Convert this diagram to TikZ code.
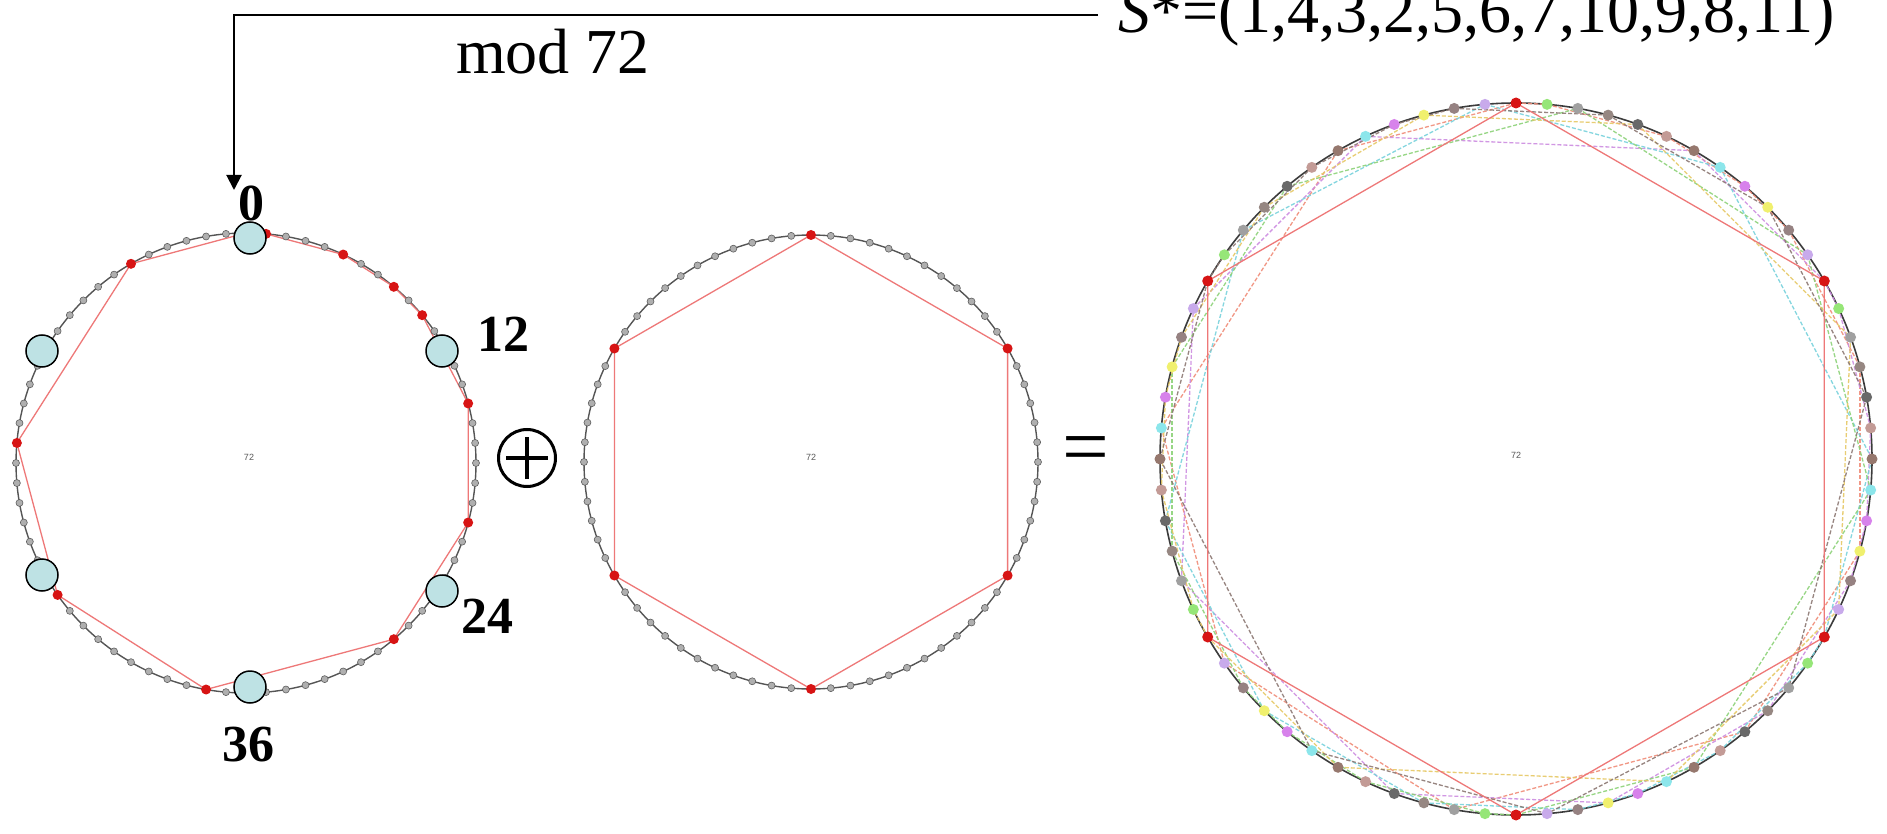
\documentclass[tikz,border=0pt]{standalone}
\usepackage{fontspec}
\setmainfont{Liberation Serif}
\newfontfamily\smallsans{Liberation Sans}
\usetikzlibrary{arrows.meta}
\pgfdeclarelayer{bg}
\pgfdeclarelayer{paper}
\pgfsetlayers{paper,bg,main}
\definecolor{lblue}{RGB}{190,226,228}
\definecolor{polyc}{RGB}{238,120,120}
\definecolor{dotred}{RGB}{215,20,20}
\definecolor{ringc}{RGB}{85,85,85}
\definecolor{dotgrey}{RGB}{175,175,175}
\definecolor{dotedge}{RGB}{95,95,95}
\definecolor{res0}{RGB}{215,20,20}
\definecolor{res1}{RGB}{150,230,120}
\definecolor{res2}{RGB}{160,160,160}
\definecolor{res3}{RGB}{150,135,130}
\definecolor{res4}{RGB}{105,105,105}
\definecolor{res5}{RGB}{195,155,150}
\definecolor{res6}{RGB}{150,120,110}
\definecolor{res7}{RGB}{140,230,235}
\definecolor{res8}{RGB}{215,130,235}
\definecolor{res9}{RGB}{240,240,110}
\definecolor{res10}{RGB}{150,130,130}
\definecolor{res11}{RGB}{200,170,235}
\definecolor{cp0}{RGB}{240,140,120}
\definecolor{cp1}{RGB}{205,140,225}
\definecolor{cp2}{RGB}{120,210,220}
\definecolor{cp3}{RGB}{140,210,120}
\definecolor{cp4}{RGB}{230,200,100}
\definecolor{cp5}{RGB}{140,120,115}
\begin{document}
\begin{tikzpicture}[x=1pt,y=-1pt,
  ring/.style={draw=ringc, line width=1.4pt},
  gdot/.style={circle, inner sep=0pt, minimum size=7pt, fill=dotgrey, draw=dotedge, line width=0.6pt},
  rdot/.style={circle, inner sep=0pt, minimum size=10pt, fill=dotred},
  cdot/.style={circle, inner sep=0pt, minimum size=11pt},
  poly/.style={draw=polyc, line width=1.3pt},
  copyline/.style={line width=1.3pt, dash pattern=on 4pt off 2pt, opacity=0.9},
  bluenode/.style={circle, inner sep=0pt, minimum size=32pt, fill=lblue, draw=black, line width=1.5pt},
  lab/.style={font=\fontsize{52}{52}\selectfont\bfseries, inner sep=0pt},
  big/.style={font=\fontsize{64}{64}\selectfont, inner sep=0pt},
  centre/.style={font=\smallsans\fontsize{9}{9}\selectfont, text=gray!70!black, inner sep=0pt},
  opsym/.style={draw=black, line width=3pt}
]
\begin{pgfonlayer}{paper}
  \fill[white] (0,0) rectangle (1887,834);
\end{pgfonlayer}
\useasboundingbox (0,0) rectangle (1887,834);

% ---------- left graph ----------
\foreach \i in {0,...,71}{
  \pgfmathsetmacro\px{246+230*sin(5*\i)}
  \pgfmathsetmacro\py{463-230*cos(5*\i)}
  \node[gdot] (L\i) at (\px,\py) {};
}
\foreach \i in {1,5,8,10,15,21,28,38,47,55,66}{
  \node[rdot] (Lr\i) at (L\i.center) {};
}
\begin{pgfonlayer}{bg}
  \draw[ring] (246,463) circle (230pt);
  \draw[poly] (L0.center) -- (L1.center) -- (L5.center) -- (L8.center) -- (L10.center)
    -- (L15.center) -- (L21.center) -- (L28.center) -- (L38.center) -- (L47.center)
    -- (L55.center) -- (L66.center) -- cycle;
\end{pgfonlayer}
\node[centre] (Lc) at (249,457) {72};

% ---------- middle graph ----------
\foreach \i in {0,...,71}{
  \pgfmathsetmacro\px{811+227*sin(5*\i)}
  \pgfmathsetmacro\py{462-227*cos(5*\i)}
  \node[gdot] (M\i) at (\px,\py) {};
}
\foreach \i in {0,12,24,36,48,60}{
  \node[rdot] (Mr\i) at (M\i.center) {};
}
\begin{pgfonlayer}{bg}
  \draw[ring] (811,462) circle (227pt);
  \draw[poly] (M0.center) -- (M12.center) -- (M24.center) -- (M36.center) -- (M48.center) -- (M60.center) -- cycle;
\end{pgfonlayer}
\node[centre] (Mc) at (811,457) {72};

% ---------- right graph ----------
\foreach \i in {0,...,71}{
  \pgfmathsetmacro\px{1516+356*sin(5*\i)}
  \pgfmathsetmacro\py{459-356*cos(5*\i)}
  \pgfmathtruncatemacro\m{mod(\i,12)}
  \node[cdot, fill=res\m] (R\i) at (\px,\py) {};
}
\begin{pgfonlayer}{bg}
  \draw[draw=ringc!70!black, line width=1.6pt] (1516,459) circle (356pt);
  \foreach \k/\col in {0/cp0,1/cp1,2/cp2,3/cp3,4/cp4,5/cp5}{
    \foreach \a/\b in {0/1,1/5,5/8,8/10,10/15,15/21,21/28,28/38,38/47,47/55,55/66,66/72}{
      \pgfmathtruncatemacro\ia{mod(\a+12*\k,72)}
      \pgfmathtruncatemacro\ib{mod(\b+12*\k,72)}
      \draw[copyline, draw=\col] (R\ia.center) -- (R\ib.center);
    }
  }
  \draw[poly] (R0.center) -- (R12.center) -- (R24.center) -- (R36.center) -- (R48.center) -- (R60.center) -- cycle;
\end{pgfonlayer}
\node[centre] (Rc) at (1516,455) {72};

% ---------- highlighted nodes and labels ----------
\node[bluenode] (B0) at (250,238) {};
\node[bluenode] (B12) at (442,351) {};
\node[bluenode] (B24) at (442,591) {};
\node[bluenode] (B36) at (250,687) {};
\node[bluenode] (B48) at (42,575) {};
\node[bluenode] (B60) at (42,351) {};
\node[lab] (l0) at (251,203) {0};
\node[lab] (l12) at (503,334) {12};
\node[lab] (l24) at (487,616) {24};
\node[lab] (l36) at (248,745) {36};

% ---------- operators ----------
\node[circle, minimum size=57pt, inner sep=0pt, opsym] (oplus) at (527,458) {};
\draw[line width=3.5pt] ([xshift=-21pt]oplus.center) -- ([xshift=21pt]oplus.center);
\draw[line width=3.5pt] ([yshift=-21pt]oplus.center) -- ([yshift=21pt]oplus.center);
\node[font=\fontsize{83}{83}\selectfont, inner sep=0pt, anchor=base] (eq) at (1086,474) {=};

% ---------- top annotation ----------
\node[big, anchor=base west] (seq) at (1118,33) {\textit{S}*=(1,4,3,2,5,6,7,10,9,8,11)};
\node[big, anchor=base] (mod) at (553,74) {mod 72};
\coordinate (lineend) at (1098,15);
\coordinate (corner) at (234,15);
\coordinate (tip) at (234,190);
\draw[line width=2pt, -{Triangle[length=15pt,width=15pt]}] (lineend) -- (corner) -- (tip);
\end{tikzpicture}
\end{document}
